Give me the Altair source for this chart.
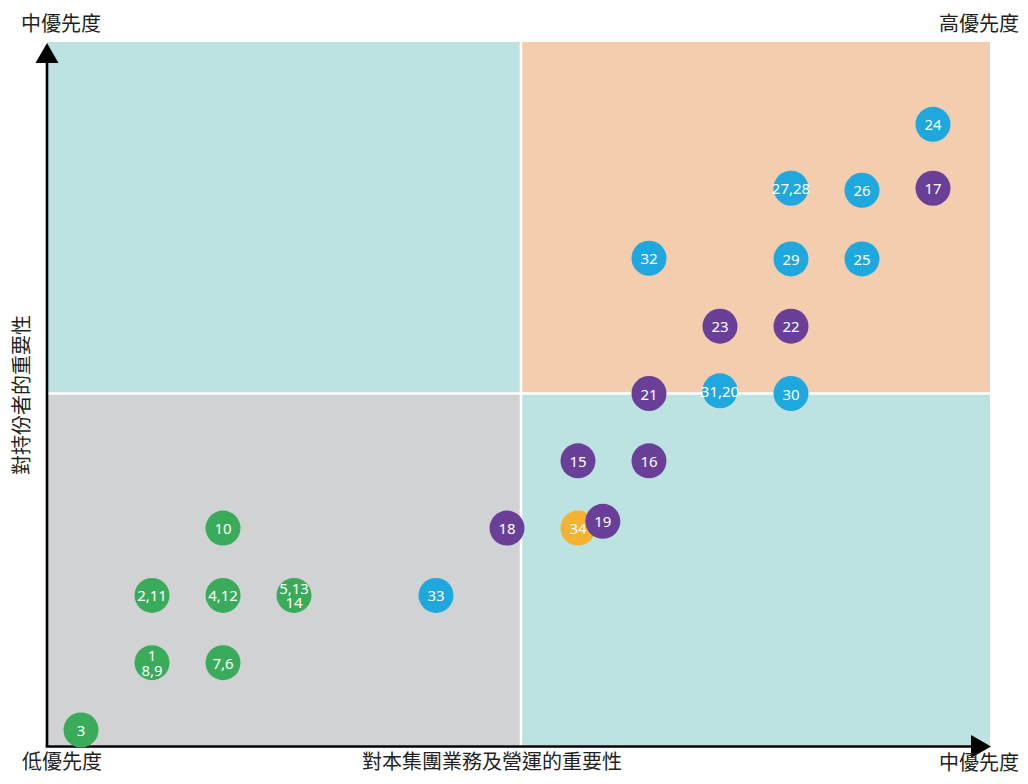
import altair as alt
import pandas as pd

# ---- data ----
labels = ["3", "1\n8,9", "7,6", "2,11", "4,12", "5,13\n14", "10", "33", "18", "34", "19",
          "15", "16", "21", "31,20", "30", "23", "22", "32", "29", "25", "27,28", "26", "17", "24"]
biz = [1, 2, 3, 2, 3, 4, 3, 6, 7, 8, 8.35, 8, 9, 9, 10, 11, 10, 11, 9, 11, 12, 11, 12, 13, 13]
stake = [0, 1, 1, 2, 2, 2, 3, 2, 3, 3, 3.1, 4, 4, 5, 5.04, 5, 6, 6, 7.01, 7, 7, 8.05, 8.02, 8.05, 9]
groups = ["g", "g", "g", "g", "g", "g", "g", "b", "p", "o", "p",
          "p", "p", "p", "b", "b", "p", "p", "b", "b", "b", "b", "b", "p", "b"]

group_names = ["g", "b", "p", "o"]
group_colors = ["#3aab5b", "#1fa8dd", "#693f98", "#f4b233"]

x_min, x_mid, x_max = 0.521, 7.197, 13.803
y_min, y_mid, y_max = -0.223, 5.0, 10.223

quad_names = ["tl", "tr", "bl", "br"]
quad_x = [x_min, x_mid, x_min, x_mid]
quad_x2 = [x_mid, x_max, x_mid, x_max]
quad_y = [y_mid, y_mid, y_min, y_min]
quad_y2 = [y_max, y_max, y_mid, y_mid]
quad_colors = ["#bce3e2", "#f4cdaf", "#d1d2d4", "#bce3e2"]

corner_text = ["中優先度", "高優先度", "低優先度", "中優先度"]
x_title = "對本集團業務及營運的重要性"
y_title = "對持份者的重要性"

W, H = 943, 703

pts = pd.DataFrame({"label": labels, "x": biz, "y": stake, "group": groups})
quads = pd.DataFrame({"q": quad_names, "x": quad_x, "x2": quad_x2, "y": quad_y, "y2": quad_y2})

xs = alt.Scale(domain=[x_min, x_max], nice=False, zero=False)
ys = alt.Scale(domain=[y_min, y_max], nice=False, zero=False)

bg = alt.Chart(quads).mark_rect().encode(
    x=alt.X("x:Q", scale=xs, axis=None), x2="x2",
    y=alt.Y("y:Q", scale=ys, axis=None), y2="y2",
    fill=alt.Fill("q:N", scale=alt.Scale(domain=quad_names, range=quad_colors), legend=None),
)

sep_v = alt.Chart(pd.DataFrame({"x": [x_mid]})).mark_rule(color="white", strokeWidth=2.5).encode(
    x=alt.X("x:Q", scale=xs, axis=None), y=alt.value(0), y2=alt.value(H))
sep_h = alt.Chart(pd.DataFrame({"y": [y_mid]})).mark_rule(color="white", strokeWidth=2.5).encode(
    y=alt.Y("y:Q", scale=ys, axis=None), x=alt.value(0), x2=alt.value(W))

axis_y = alt.Chart(pd.DataFrame({"a": [0]})).mark_rule(color="black", strokeWidth=2.6).encode(
    x=alt.value(0), y=alt.value(H + 1.5), y2=alt.value(18))
axis_x = alt.Chart(pd.DataFrame({"a": [0]})).mark_rule(color="black", strokeWidth=2.6).encode(
    y=alt.value(H + 1.5), x=alt.value(-1.3), x2=alt.value(926))
arrow_up = alt.Chart(pd.DataFrame({"a": [0]})).mark_point(
    shape="triangle-up", filled=True, size=530, color="black", opacity=1).encode(
    x=alt.value(0), y=alt.value(11))
arrow_right = alt.Chart(pd.DataFrame({"a": [0]})).mark_point(
    shape="triangle-right", filled=True, size=530, color="black", opacity=1).encode(
    x=alt.value(934), y=alt.value(H + 1.5))

dots = alt.Chart(pts).mark_circle(size=1225, opacity=1).encode(
    x=alt.X("x:Q", scale=xs, axis=None),
    y=alt.Y("y:Q", scale=ys, axis=None),
    color=alt.Color("group:N", scale=alt.Scale(domain=group_names, range=group_colors), legend=None),
)


def label_layer(multi):
    cond = "indexof(datum.label, '\\n') >= 0"
    base = alt.Chart(pts).transform_filter(cond if multi else "!(" + cond + ")")
    return base.mark_text(
        color="white", font="Noto Sans", fontSize=15, baseline="middle", align="center",
        lineBreak="\n", lineHeight=14.5, dy=(-6.5 if multi else 1)).encode(
        x=alt.X("x:Q", scale=xs, axis=None),
        y=alt.Y("y:Q", scale=ys, axis=None),
        text="label:N",
    )


cfont = "Noto Sans CJK TC"
ctext_x = [14, 932, 15, 932]
ctext_y = [-17, -17, 721, 722]


def ctext(i):
    return alt.Chart(pd.DataFrame({"t": [corner_text[i]]})).mark_text(
        font=cfont, fontSize=20, color="#231f20", align="center", baseline="middle").encode(
        x=alt.value(ctext_x[i]), y=alt.value(ctext_y[i]), text="t:N")


xt = alt.Chart(pd.DataFrame({"t": [x_title]})).mark_text(
    font=cfont, fontSize=20, color="#231f20", align="center", baseline="middle").encode(
    x=alt.value(445), y=alt.value(721), text="t:N")
yt = alt.Chart(pd.DataFrame({"t": [y_title]})).mark_text(
    font=cfont, fontSize=20, color="#231f20", align="center", baseline="middle", angle=270).encode(
    x=alt.value(-24), y=alt.value(353), text="t:N")

chart = alt.layer(
    bg, sep_v, sep_h, axis_y, axis_x, arrow_up, arrow_right, dots,
    label_layer(False), label_layer(True),
    ctext(0), ctext(1), ctext(2), ctext(3), xt, yt
).properties(
    width=W, height=H,
    autosize="none",
    padding={"left": 39, "top": 34, "right": 30, "bottom": 31},
).configure_view(stroke=None)

chart.save("out.html", embed_options={"renderer": "svg", "actions": False})
